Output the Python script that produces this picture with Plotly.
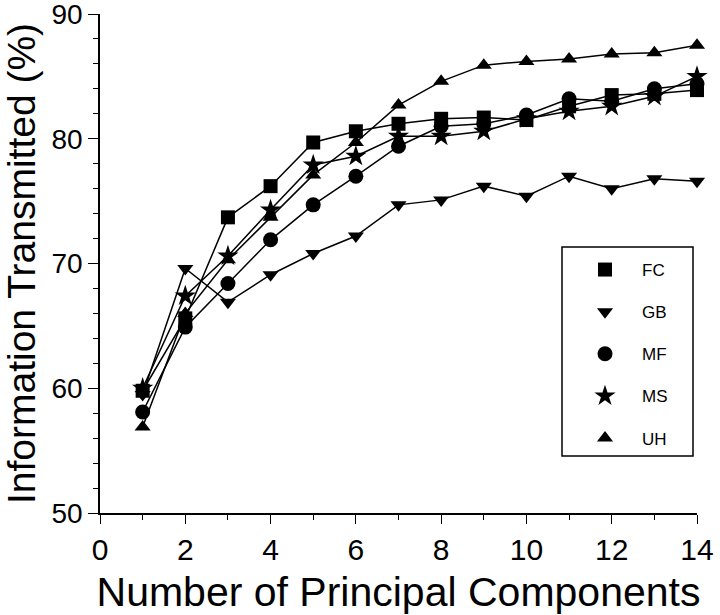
import plotly.graph_objects as go

components = list(range(1, 15))
fc = [59.8, 65.6, 73.7, 76.2, 79.7, 80.6, 81.2, 81.6, 81.7, 81.5, 82.6, 83.5, 83.6, 83.9]
gb = [59.5, 69.6, 66.9, 69.1, 70.8, 72.2, 74.7, 75.1, 76.2, 75.4, 77.0, 76.0, 76.8, 76.6]
mf = [58.1, 64.9, 68.4, 71.9, 74.7, 77.0, 79.4, 81.0, 81.2, 81.9, 83.2, 83.0, 84.0, 84.4]
ms = [60.0, 67.4, 70.6, 74.3, 77.9, 78.6, 80.2, 80.2, 80.6, 81.6, 82.2, 82.6, 83.4, 85.0]
uh = [56.9, 66.0, 70.3, 73.7, 77.1, 79.7, 82.7, 84.6, 85.9, 86.2, 86.4, 86.8, 86.9, 87.5]

x_ticks = [0, 2, 4, 6, 8, 10, 12, 14]
y_ticks = [50, 60, 70, 80, 90]

series = [
    ("FC", fc, "square", 14),
    ("GB", gb, "triangle-down", 14),
    ("MF", mf, "circle", 15),
    ("MS", ms, "star", 16),
    ("UH", uh, "triangle-up", 14),
]

font = "Liberation Sans, Arial, Helvetica, sans-serif"
narrow = "Liberation Sans Narrow, Arial Narrow, Liberation Sans, Arial, sans-serif"

fig = go.Figure()
for name, vals, sym, sz in series:
    fig.add_trace(go.Scatter(
        x=components, y=vals, name=name, mode="lines+markers",
        line=dict(color="black", width=1.5),
        marker=dict(symbol=sym, size=sz, color="black"),
        cliponaxis=False, showlegend=False,
    ))
# legend entries: markers only
for name, vals, sym, sz in series:
    fig.add_trace(go.Scatter(
        x=[None], y=[None], name=name, mode="markers",
        marker=dict(symbol=sym, size=sz, color="black"),
        legendgroup=name, showlegend=True,
    ))

# legend frame
fig.add_shape(type="rect", xref="paper", yref="paper",
              x0=(562 - 100) / 597, x1=(693 - 100) / 597,
              y0=(513 - 456) / 499, y1=(513 - 247) / 499,
              line=dict(color="black", width=1.5), fillcolor="rgba(0,0,0,0)")

fig.update_layout(
    width=720, height=615,
    margin=dict(l=100, r=23, t=14, b=102),
    paper_bgcolor="white", plot_bgcolor="white",
    font=dict(family=font, color="black"),
    showlegend=True,
    legend=dict(
        x=(568 - 100) / 597, y=(513 - 252) / 499, xanchor="left", yanchor="top",
        borderwidth=0, bgcolor="rgba(0,0,0,0)",
        font=dict(size=17, family=font),
        tracegroupgap=17, itemwidth=64,
    ),
    xaxis=dict(
        range=[0, 14], tickvals=x_ticks, automargin=False,
        showgrid=False, zeroline=False, showline=True, linecolor="black", linewidth=1.5,
        ticks="outside", ticklen=9, tickwidth=1, tickcolor="black",
        minor=dict(dtick=1, ticks="outside", ticklen=5, tickcolor="black"),
        tickfont=dict(size=30, family=narrow), ticklabeloverflow="allow",
        title=dict(text="Number of Principal Components", font=dict(size=41), standoff=14),
    ),
    yaxis=dict(
        range=[50, 90], tickvals=y_ticks, automargin=False,
        showgrid=False, zeroline=False, showline=True, linecolor="black", linewidth=1.5,
        ticks="outside", ticklen=10, tickwidth=1, tickcolor="black",
        minor=dict(dtick=2, ticks="outside", ticklen=5, tickcolor="black"),
        tickfont=dict(size=28, family=narrow), ticklabeloverflow="allow",
        title=dict(text="Information Transmitted (%)", font=dict(size=39), standoff=8),
    ),
)

fig.write_html("out.html", config={"displayModeBar": False},
               post_script="document.body.style.margin='0';")
